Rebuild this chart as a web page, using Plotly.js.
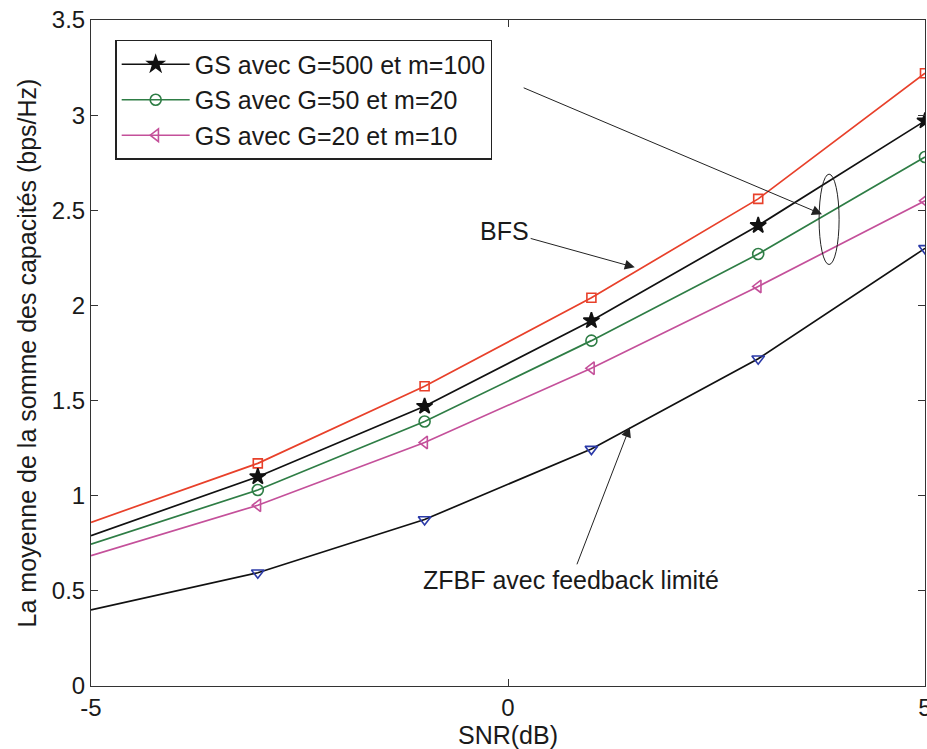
<!DOCTYPE html>
<html>
<head>
<meta charset="utf-8">
<script src="https://cdn.plot.ly/plotly-3.0.1.min.js"></script>
<style>html,body{margin:0;padding:0;background:#fff;}#chart{width:927px;height:749px;}</style>
</head>
<body>
<div id="chart"></div>
<script>
// SNR values (dB)
const snr = [-5, -3, -1, 1, 3, 5];
const markerSnr = [-3, -1, 1, 3, 5];
const xTickVals = [-5, 0, 5];
const xTickText = ['-5', '0', '5'];
// Series values (bps/Hz)
const bfs = [0.86, 1.17, 1.575, 2.04, 2.56, 3.22];
const gs500 = [0.79, 1.10, 1.47, 1.92, 2.42, 2.97];
const gs50 = [0.745, 1.03, 1.39, 1.815, 2.27, 2.78];
const gs20 = [0.685, 0.95, 1.28, 1.67, 2.10, 2.55];
const zfbf = [0.40, 0.595, 0.875, 1.245, 1.72, 2.30];
const legendNames = ['GS avec G=500 et m=100', 'GS avec G=50 et m=20', 'GS avec G=20 et m=10'];

const series = [
  {y: bfs, line: '#e8402a', mcolor: '#e8402a', symbol: 'square-open', size: 9, legend: null},
  {y: gs500, line: '#111111', mcolor: '#111111', symbol: 'star', size: 12, legend: legendNames[0]},
  {y: gs50, line: '#2e7d45', mcolor: '#2e7d45', symbol: 'circle-open', size: 11, legend: legendNames[1]},
  {y: gs20, line: '#c4509a', mcolor: '#c4509a', symbol: 'triangle-left-open', size: 11, legend: legendNames[2]},
  {y: zfbf, line: '#111111', mcolor: '#2b3aa8', symbol: 'triangle-down-open', size: 11, legend: null}
];

const traces = [];
series.forEach(s => {
  traces.push({x: snr, y: s.y, mode: 'lines', line: {color: s.line, width: 1.7}, showlegend: false, hoverinfo: 'skip'});
  traces.push({x: markerSnr, y: s.y.slice(1), mode: 'markers', showlegend: false,
    marker: {symbol: s.symbol, size: s.size, color: s.mcolor, line: {color: s.mcolor, width: 1.6}}});
});
series.forEach(s => {
  if (s.legend) {
    traces.push({x: [null], y: [null], mode: 'lines+markers', name: s.legend,
      line: {color: s.line, width: 1.7},
      marker: {symbol: s.symbol, size: s.size, color: s.mcolor, line: {color: s.mcolor, width: 1.6}}});
  }
});

const fam = '"Liberation Sans", Arial, sans-serif';
const tickFont = {family: fam, size: 24, color: '#1a1a1a'};
const font = {family: fam, size: 25, color: '#1a1a1a'};
const layout = {
  width: 927, height: 749,
  margin: {l: 91, r: 2, t: 20, b: 63},
  paper_bgcolor: '#fff', plot_bgcolor: '#fff',
  font: font,
  showlegend: true,
  legend: {x: 0.029, y: 0.97, xanchor: 'left', yanchor: 'top', bgcolor: '#fff',
    bordercolor: '#222', borderwidth: 1.5, font: {family: fam, size: 25, color: '#1a1a1a'},
    tracegroupgap: 0, itemwidth: 68},
  xaxis: {range: [-5, 5], tickvals: xTickVals, ticktext: xTickText, ticks: 'inside', ticklen: 7, tickcolor: '#333',
    showline: true, linecolor: '#333', linewidth: 1, mirror: 'allticks', showgrid: false, zeroline: false,
    ticklabeloverflow: 'allow', tickfont: tickFont, title: {text: 'SNR(dB)', font: font, standoff: 2}},
  yaxis: {range: [0, 3.5], dtick: 0.5, ticks: 'inside', ticklen: 7, tickcolor: '#333',
    showline: true, linecolor: '#333', linewidth: 1, mirror: 'allticks', showgrid: false, zeroline: false,
    tickfont: tickFont, title: {text: 'La moyenne de la somme des capacités (bps/Hz)', font: font, standoff: 8}},
  shapes: [
    {type: 'circle', xref: 'x', yref: 'y', x0: 3.73, x1: 3.97, y0: 2.215, y1: 2.69,
      line: {color: '#222', width: 1}}
  ],
  annotations: [
    {x: 1.52, y: 2.2, ax: -0.04, ay: 2.39, axref: 'x', ayref: 'y', text: 'BFS', showarrow: true,
      arrowhead: 2, arrowsize: 2, arrowwidth: 1, arrowcolor: '#222', font: font},
    {x: 1.46, y: 1.36, ax: 0.755, ay: 0.558, axref: 'x', ayref: 'y', text: 'ZFBF avec feedback limité', showarrow: true,
      arrowhead: 2, arrowsize: 2, arrowwidth: 1, arrowcolor: '#222', font: font},
    {x: 3.765, y: 2.479, ax: 0.17, ay: 3.147, axref: 'x', ayref: 'y', text: '', showarrow: true,
      arrowhead: 2, arrowsize: 2, arrowwidth: 1, arrowcolor: '#222', font: font}
  ]
};
Plotly.newPlot('chart', traces, layout, {displayModeBar: false, staticPlot: true});
</script>
</body>
</html>
